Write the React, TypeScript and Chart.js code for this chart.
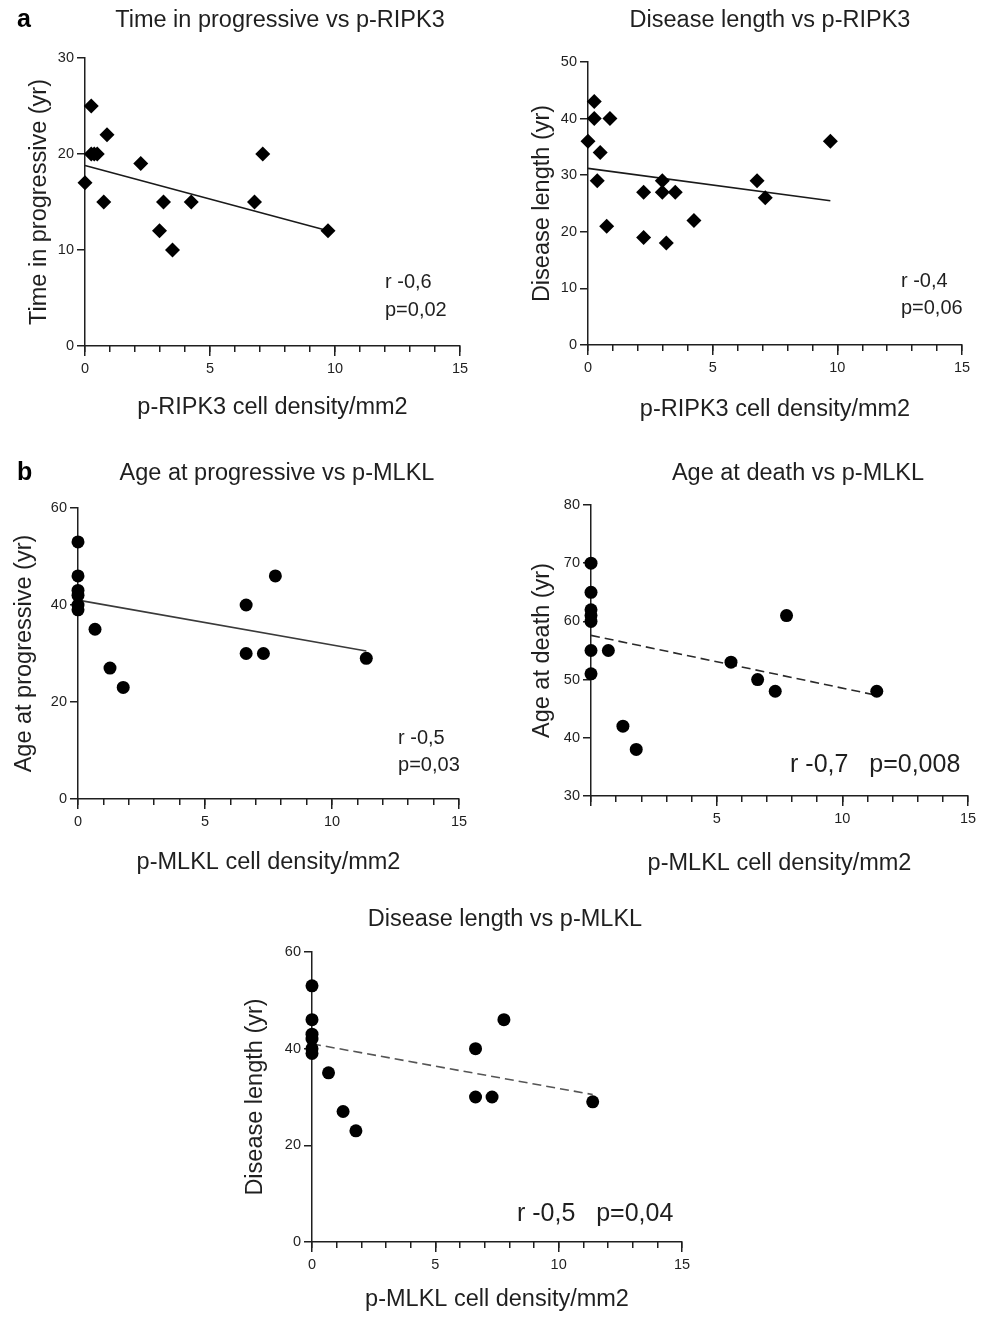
import React, { useEffect, useRef } from 'react';
import { Chart, registerables } from 'chart.js';

Chart.register(...registerables);

const FONT = '"Liberation Sans", Arial, Helvetica, sans-serif';
const INK = '#1f1f1f';
const TITLE_SIZE = 23.5;
const TICK_SIZE = 14.5;

// ---------- data ----------
// a: time in progressive vs p-RIPK3
const ripk3TimeX = [0, 0.25, 0.25, 0.37, 0.49, 0.88, 0.75, 2.23, 3.14, 2.98, 3.5, 4.25, 6.78, 7.11, 9.72];
const ripk3TimeY = [17, 25, 20, 20, 20, 22, 15, 19, 15, 12, 10, 15, 15, 20, 12];
const ripk3TimeFitX = [0, 9.72];
const ripk3TimeFitY = [18.8, 12.0];

// a: disease length vs p-RIPK3
const ripk3DiseaseX = [0, 0.25, 0.25, 0.88, 0.49, 0.37, 0.75, 2.23, 2.23, 2.98, 2.98, 3.14, 3.5, 4.25, 6.78, 7.11, 9.72];
const ripk3DiseaseY = [36, 43, 40, 40, 34, 29, 21, 27, 19, 29, 27, 18, 27, 22, 29, 26, 36];
const ripk3DiseaseFitX = [0, 9.72];
const ripk3DiseaseFitY = [31.2, 25.5];

// b: age at progressive vs p-MLKL
const mlklAgeProgX = [0, 0, 0, 0, 0, 0, 0.67, 1.26, 1.78, 6.62, 6.62, 7.3, 7.77, 11.35];
const mlklAgeProgY = [53, 46, 43, 42, 40, 39, 35, 27, 23, 40, 30, 30, 46, 29];
const mlklAgeProgFitX = [0, 11.35];
const mlklAgeProgFitY = [41.0, 30.5];

// b: age at death vs p-MLKL
const mlklDeathX = [0, 0, 0, 0, 0, 0, 0, 0.69, 1.27, 1.8, 5.57, 6.63, 7.33, 7.78, 11.37];
const mlklDeathY = [70, 65, 62, 61, 60, 55, 51, 55, 42, 38, 53, 50, 48, 61, 48];
const mlklDeathFitX = [0, 11.37];
const mlklDeathFitY = [57.6, 47.3];

// b: disease length vs p-MLKL
const mlklDiseaseX = [0, 0, 0, 0, 0, 0, 0.67, 1.26, 1.78, 6.63, 6.63, 7.3, 7.78, 11.38];
const mlklDiseaseY = [53, 46, 43, 42, 40, 39, 35, 27, 23, 40, 30, 30, 46, 29];
const mlklDiseaseFitX = [0, 11.38];
const mlklDiseaseFitY = [41.0, 30.5];

const xAxisMin = 0;
const xAxisMax = 15;
const xMajorStep = 5;
const xMinorStep = 1;

type Geom = { l: number; r: number; t: number; b: number; titleMidY: number; titleCX: number; yTitleX: number; xTitleMidY: number };
type Panel = {
  title: string; xTitle: string; yTitle: string;
  xs: number[]; ys: number[]; fitX: number[]; fitY: number[];
  yMin: number; yMax: number; yStep: number;
  marker: string; radius: number; dashed: boolean; fitColor: string;
  stats: string[]; statsX: number; statsY: number; statsSize: number; statsGap: number;
  hideZeroX: boolean; geom: Geom;
};

const panels: Panel[] = [
  {
    title: 'Time in progressive vs p-RIPK3', xTitle: 'p-RIPK3 cell density/mm2', yTitle: 'Time in progressive (yr)',
    xs: ripk3TimeX, ys: ripk3TimeY, fitX: ripk3TimeFitX, fitY: ripk3TimeFitY,
    yMin: 0, yMax: 30, yStep: 10, marker: 'rectRot', radius: 7.5, dashed: false, fitColor: '#1a1a1a',
    stats: ['r -0,6', 'p=0,02'], statsX: 12.0, statsY: 6.6, statsSize: 20, statsGap: 28,
    hideZeroX: false,
    geom: { l: 85, r: 460, t: 58, b: 346, titleMidY: 20, titleCX: 280, yTitleX: 39, xTitleMidY: 408 },
  },
  {
    title: 'Disease length vs p-RIPK3', xTitle: 'p-RIPK3 cell density/mm2', yTitle: 'Disease length (yr)',
    xs: ripk3DiseaseX, ys: ripk3DiseaseY, fitX: ripk3DiseaseFitX, fitY: ripk3DiseaseFitY,
    yMin: 0, yMax: 50, yStep: 10, marker: 'rectRot', radius: 7.5, dashed: false, fitColor: '#1a1a1a',
    stats: ['r -0,4', 'p=0,06'], statsX: 12.55, statsY: 11.3, statsSize: 20, statsGap: 27,
    hideZeroX: false,
    geom: { l: 588, r: 962, t: 62, b: 345, titleMidY: 20, titleCX: 770, yTitleX: 542, xTitleMidY: 410 },
  },
  {
    title: 'Age at progressive vs p-MLKL', xTitle: 'p-MLKL cell density/mm2', yTitle: 'Age at progressive (yr)',
    xs: mlklAgeProgX, ys: mlklAgeProgY, fitX: mlklAgeProgFitX, fitY: mlklAgeProgFitY,
    yMin: 0, yMax: 60, yStep: 20, marker: 'circle', radius: 6.5, dashed: false, fitColor: '#3a3a3a',
    stats: ['r -0,5', 'p=0,03'], statsX: 12.6, statsY: 12.4, statsSize: 20, statsGap: 27,
    hideZeroX: false,
    geom: { l: 78, r: 459, t: 508, b: 799, titleMidY: 473, titleCX: 277, yTitleX: 24, xTitleMidY: 863 },
  },
  {
    title: 'Age at death vs p-MLKL', xTitle: 'p-MLKL cell density/mm2', yTitle: 'Age at death (yr)',
    xs: mlklDeathX, ys: mlklDeathY, fitX: mlklDeathFitX, fitY: mlklDeathFitY,
    yMin: 30, yMax: 80, yStep: 10, marker: 'circle', radius: 6.5, dashed: true, fitColor: '#2a2a2a',
    stats: ['r -0,7   p=0,008'], statsX: 7.92, statsY: 35.3, statsSize: 25, statsGap: 0,
    hideZeroX: true,
    geom: { l: 591, r: 968, t: 505, b: 796, titleMidY: 473, titleCX: 798, yTitleX: 542, xTitleMidY: 864 },
  },
  {
    title: 'Disease length vs p-MLKL', xTitle: 'p-MLKL cell density/mm2', yTitle: 'Disease length (yr)',
    xs: mlklDiseaseX, ys: mlklDiseaseY, fitX: mlklDiseaseFitX, fitY: mlklDiseaseFitY,
    yMin: 0, yMax: 60, yStep: 20, marker: 'circle', radius: 6.5, dashed: true, fitColor: '#555555',
    stats: ['r -0,5   p=0,04'], statsX: 8.31, statsY: 5.8, statsSize: 25, statsGap: 0,
    hideZeroX: false,
    geom: { l: 312, r: 682, t: 952, b: 1242, titleMidY: 919, titleCX: 505, yTitleX: 255, xTitleMidY: 1300 },
  },
];

function ScatterPanel({ p }: { p: Panel }) {
  const ref = useRef<HTMLCanvasElement | null>(null);
  const lh = TITLE_SIZE * 1.2;
  const g = p.geom;
  const left = Math.round(g.yTitleX - lh / 2);
  const top = Math.round(g.titleMidY - lh / 2);
  const right = Math.round(2 * g.titleCX - left);
  const bottom = Math.round(g.xTitleMidY + lh / 2);
  const W = right - left;
  const H = bottom - top;
  const yW = g.l - left;
  const yrW = right - g.r;
  const xH = bottom - g.b;
  const tPadB = g.t - top - lh;

  useEffect(() => {
    const canvas = ref.current;
    if (!canvas) return;
    const statsPlugin = {
      id: 'statsText',
      afterDatasetsDraw(chart: any) {
        const ctx = chart.ctx;
        const px = chart.scales.x.getPixelForValue(p.statsX);
        const py = chart.scales.y.getPixelForValue(p.statsY);
        ctx.save();
        ctx.fillStyle = INK;
        ctx.font = `${p.statsSize}px ${FONT}`;
        ctx.textAlign = 'left';
        ctx.textBaseline = 'middle';
        p.stats.forEach((line, i) => ctx.fillText(line, px, py + i * p.statsGap));
        ctx.restore();
      },
    };
    const points = p.xs.map((x, i) => ({ x, y: p.ys[i] }));
    const fit = p.fitX.map((x, i) => ({ x, y: p.fitY[i] }));
    const tickFont = { family: FONT, size: TICK_SIZE };
    const titleFont = { family: FONT, size: TITLE_SIZE, weight: 'normal' as const };
    const chart = new Chart(canvas, {
      type: 'scatter',
      data: {
        datasets: [
          {
            data: points,
            pointStyle: p.marker as any,
            pointRadius: p.radius,
            pointHoverRadius: p.radius,
            backgroundColor: '#000',
            borderColor: '#000',
            borderWidth: 0,
            showLine: false,
            clip: false as any,
          },
          {
            data: fit,
            showLine: true,
            pointRadius: 0,
            pointHoverRadius: 0,
            borderColor: p.fitColor,
            borderWidth: 1.6,
            borderDash: p.dashed ? [9, 5] : [],
            fill: false,
            clip: false as any,
          },
        ],
      },
      plugins: [statsPlugin],
      options: {
        animation: false,
        responsive: false,
        devicePixelRatio: 1,
        events: [],
        layout: { padding: 0, autoPadding: false } as any,
        plugins: {
          legend: { display: false },
          tooltip: { enabled: false },
          title: {
            display: true,
            text: p.title,
            color: INK,
            font: titleFont,
            fullSize: true,
            padding: { top: 0, bottom: tPadB },
          },
        },
        scales: {
          x: {
            type: 'linear',
            axis: 'x',
            position: 'bottom',
            min: xAxisMin,
            max: xAxisMax,
            afterFit: (s: any) => { s.height = xH; },
            ticks: {
              stepSize: xMajorStep,
              autoSkip: false,
              maxRotation: 0,
              padding: 4,
              color: INK,
              font: tickFont,
              callback: (v: any) => (p.hideZeroX && Number(v) === 0 ? '' : String(v)),
            },
            grid: { drawOnChartArea: false, drawTicks: true, tickLength: 10, color: INK, lineWidth: 1.5 },
            border: { display: true, color: INK, width: 1.5 },
            title: { display: true, text: p.xTitle, color: INK, font: titleFont, padding: 0 },
          },
          xm: {
            type: 'linear',
            axis: 'x',
            position: { y: p.yMin } as any,
            min: xAxisMin,
            max: xAxisMax,
            ticks: { stepSize: xMinorStep, autoSkip: false, display: false },
            grid: { drawOnChartArea: false, drawTicks: true, tickLength: 6, color: INK, lineWidth: 1.5 },
            border: { display: false },
          },
          y: {
            type: 'linear',
            axis: 'y',
            position: 'left',
            min: p.yMin,
            max: p.yMax,
            afterFit: (s: any) => { s.width = yW; },
            ticks: { stepSize: p.yStep, padding: 3, color: INK, font: tickFont },
            grid: { drawOnChartArea: false, drawTicks: true, tickLength: 8, color: INK, lineWidth: 1.5 },
            border: { display: true, color: INK, width: 1.5 },
            title: { display: true, text: p.yTitle, color: INK, font: titleFont, padding: 0 },
          },
          yr: {
            type: 'linear',
            axis: 'y',
            position: 'right',
            afterFit: (s: any) => { s.width = yrW; },
            ticks: { display: false },
            grid: { display: false, drawTicks: false },
            border: { display: false },
          },
        } as any,
      },
    });
    return () => chart.destroy();
  }, []);

  return (
    <canvas
      ref={ref}
      width={W}
      height={H}
      style={{ position: 'absolute', left, top, width: W, height: H }}
    />
  );
}

const letterStyle: React.CSSProperties = {
  position: 'absolute',
  fontFamily: FONT,
  fontWeight: 'bold',
  fontSize: 25,
  lineHeight: '25px',
  color: '#000',
};

export default function App() {
  return (
    <div
      style={{
        position: 'absolute',
        left: 0,
        top: 0,
        width: 986,
        height: 1322,
        overflow: 'hidden',
        background: '#fff',
      }}
    >
      {panels.map((p, i) => (
        <ScatterPanel key={i} p={p} />
      ))}
      <div style={{ ...letterStyle, left: 17, top: 6 }}>a</div>
      <div style={{ ...letterStyle, left: 17, top: 459 }}>b</div>
    </div>
  );
}
